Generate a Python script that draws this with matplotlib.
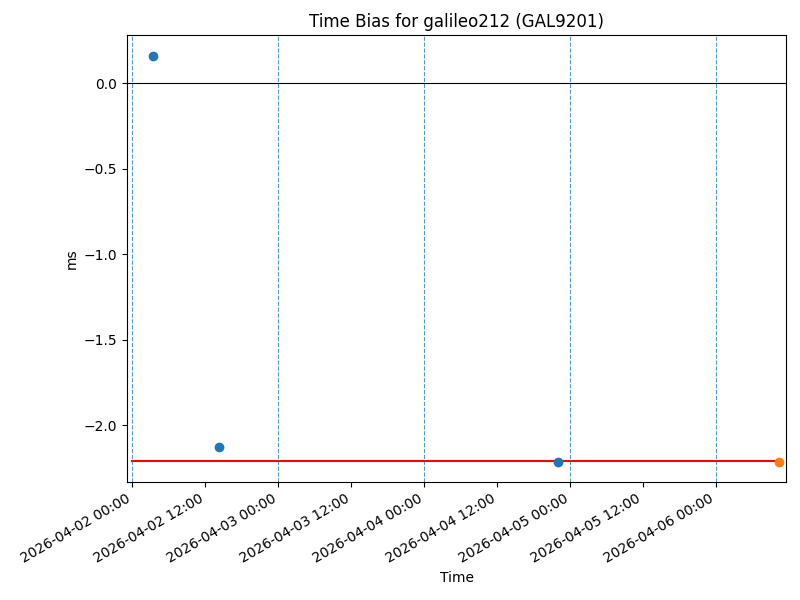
import matplotlib
matplotlib.use("Agg")
import matplotlib.pyplot as plt
import matplotlib.dates as mdates
import numpy as np
from datetime import datetime

blue_times = [datetime(2026, 4, 2, 3, 27), datetime(2026, 4, 2, 14, 18), datetime(2026, 4, 4, 22, 2)]
blue_values = [0.160, -2.130, -2.214]
orange_times = [datetime(2026, 4, 6, 10, 22)]
orange_values = [-2.214]
day_lines = [datetime(2026, 4, d) for d in range(2, 7)]
ref_start = datetime(2026, 4, 2, 0, 0)
ref_value = -2.211
xlim = (datetime(2026, 4, 1, 23, 8), datetime(2026, 4, 6, 11, 27))
ylim = (-2.330, 0.283)

fig, ax = plt.subplots(figsize=(8, 6), dpi=100)
ax.axhline(0, color="black", linewidth=0.8)
for d in day_lines:
    ax.axvline(d, color="#1f77b4", linestyle="--", linewidth=0.8, alpha=0.75)
ax.plot([ref_start, orange_times[-1]], [ref_value, ref_value], color="red", linewidth=1.5)
ax.scatter(blue_times, blue_values, color="C0", zorder=3)
ax.scatter(orange_times, orange_values, color="C1", zorder=3)
ax.set_xlim(*xlim)
ax.set_ylim(*ylim)
ax.xaxis.set_major_locator(mdates.HourLocator(byhour=[0, 12]))
ax.xaxis.set_major_formatter(mdates.DateFormatter("%Y-%m-%d %H:%M"))
ax.set_title("Time Bias for galileo212 (GAL9201)")
ax.set_xlabel("Time")
ax.set_ylabel("ms")
fig.autofmt_xdate()
fig.subplots_adjust(left=0.159, right=0.9825, top=0.9417, bottom=0.1975)
fig.savefig("out.png")
